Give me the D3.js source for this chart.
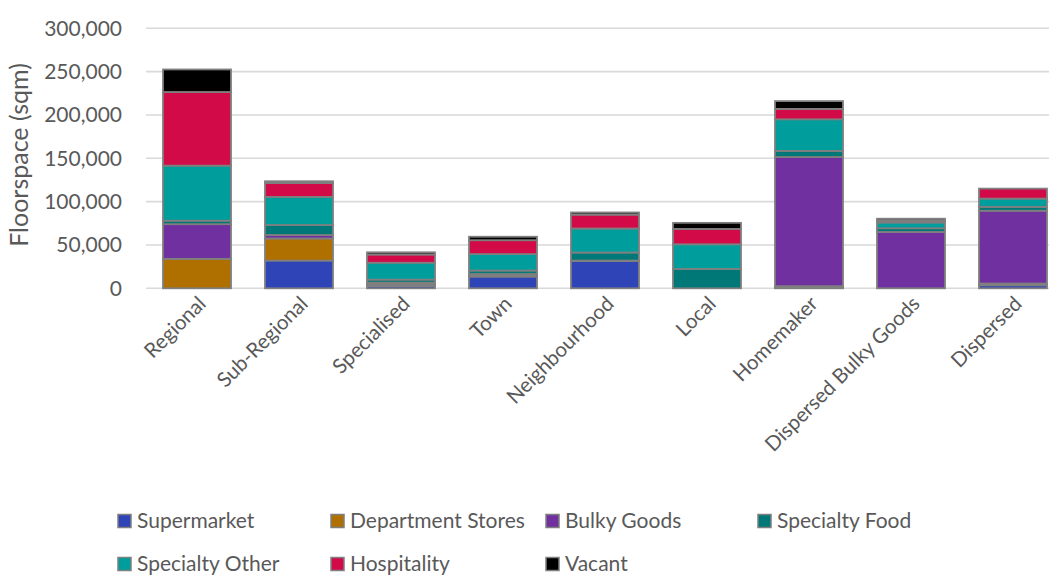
<!DOCTYPE html>
<html>
<head>
<meta charset="utf-8">
<script src="https://cdn.jsdelivr.net/npm/d3@7"></script>
<style>
  html, body { margin: 0; padding: 0; background: #fff; }
  svg { display: block; }
  text { font-family: Lato, "Open Sans", sans-serif; fill: #595959; }
</style>
</head>
<body>
<svg id="chart" width="1049" height="578"></svg>
<script>
// Retail floorspace (sqm) by centre type, split by use
const categories = ["Regional", "Sub-Regional", "Specialised", "Town", "Neighbourhood", "Local", "Homemaker", "Dispersed Bulky Goods", "Dispersed"];
const supermarket      = [0,     32000, 2500,  13500, 31500, 0,     1000,   0,     3500];
const departmentStores = [34000, 25500, 2000,  1500,  0,     0,     1500,   0,     2000];
const bulkyGoods       = [40000, 4000,  2000,  1500,  500,   0,     149000, 65000, 84000];
const specialtyFood    = [4000,  11500, 3500,  4000,  9300,  22300, 7000,   4300,  4500];
const specialtyOther   = [63500, 32500, 19500, 19000, 27700, 28500, 36500,  6600,  9500];
const hospitality      = [85000, 16000, 9500,  16000, 16000, 17700, 12000,  2200,  11500];
const vacant           = [26000, 2000,  2500,  4000,  2500,  7000,  9000,   2200,  0];

const seriesNames = ["Supermarket", "Department Stores", "Bulky Goods", "Specialty Food", "Specialty Other", "Hospitality", "Vacant"];
const seriesValues = [supermarket, departmentStores, bulkyGoods, specialtyFood, specialtyOther, hospitality, vacant];
const seriesColors = ["#2f44b6", "#b07000", "#7030a0", "#007878", "#009d9d", "#d20a48", "#000000"];
const yTicks = [0, 50000, 100000, 150000, 200000, 250000, 300000];

const rows = categories.map((c, i) => {
  const r = { category: c };
  seriesNames.forEach((s, j) => { r[s] = seriesValues[j][i]; });
  return r;
});

const svg = d3.select("#chart");
const plot = { left: 146, right: 1064, top: 28.3, bottom: 288.3 };

const x = d3.scaleBand()
  .domain(categories)
  .range([plot.left, plot.right])
  .paddingInner(1 / 3)
  .paddingOuter(1 / 6);

const y = d3.scaleLinear()
  .domain([0, 300000])
  .range([plot.bottom, plot.top]);

const color = d3.scaleOrdinal().domain(seriesNames).range(seriesColors);

// gridlines
svg.append("g")
  .selectAll("line")
  .data(yTicks)
  .join("line")
  .attr("x1", plot.left)
  .attr("x2", plot.right)
  .attr("y1", d => y(d))
  .attr("y2", d => y(d))
  .attr("stroke", "#d9d9d9")
  .attr("stroke-width", 1.6);

// y axis labels
const yAxis = d3.axisLeft(y).tickValues(yTicks).tickFormat(d3.format(",")).tickSize(0).tickPadding(0);
const yg = svg.append("g").attr("transform", "translate(122,0)").call(yAxis);
yg.select(".domain").remove();
yg.selectAll("text")
  .attr("font-size", 21)
  .attr("font-family", "Lato, sans-serif")
  .attr("fill", "#595959");

// axis title
svg.append("text")
  .attr("transform", "translate(28,155) rotate(-90)")
  .attr("text-anchor", "middle")
  .attr("font-size", 25)
  .text("Floorspace (sqm)");

// stacked bars
const stacked = d3.stack().keys(seriesNames)(rows);
svg.append("g")
  .selectAll("g")
  .data(stacked)
  .join("g")
  .attr("fill", d => color(d.key))
  .selectAll("rect")
  .data(d => d)
  .join("rect")
  .attr("x", d => x(d.data.category))
  .attr("width", x.bandwidth())
  .attr("y", d => y(d[1]))
  .attr("height", d => y(d[0]) - y(d[1]))
  .attr("stroke", "#7f7f7f")
  .attr("stroke-width", 1.8);

// category labels
const xAxis = d3.axisBottom(x).tickSize(0).tickPadding(0);
const xg = svg.append("g").call(xAxis);
xg.select(".domain").remove();
xg.selectAll(".tick").attr("transform", d => `translate(${x(d) + x.bandwidth() / 2 + 5},300)`);
xg.selectAll("text")
  .attr("font-size", 20.5)
  .attr("font-family", "Lato, sans-serif")
  .attr("fill", "#595959")
  .attr("text-anchor", "end")
  .attr("dy", "0.35em")
  .attr("y", 0)
  .attr("transform", "rotate(-45)");

// legend
const legendPos = [
  [118, 521], [331, 521], [546, 521], [758, 521],
  [118, 564], [331, 564], [546, 564]
];
const lg = svg.append("g")
  .selectAll("g")
  .data(seriesNames)
  .join("g")
  .attr("transform", (d, i) => `translate(${legendPos[i][0]},${legendPos[i][1]})`);
lg.append("rect")
  .attr("x", 0).attr("y", -6.5)
  .attr("width", 13).attr("height", 13)
  .attr("fill", d => color(d))
  .attr("stroke", "#7f7f7f")
  .attr("stroke-width", 1.5);
lg.append("text")
  .attr("x", 19)
  .attr("y", 0)
  .attr("dy", "0.35em")
  .attr("font-size", 21)
  .text(d => d);
</script>
</body>
</html>
